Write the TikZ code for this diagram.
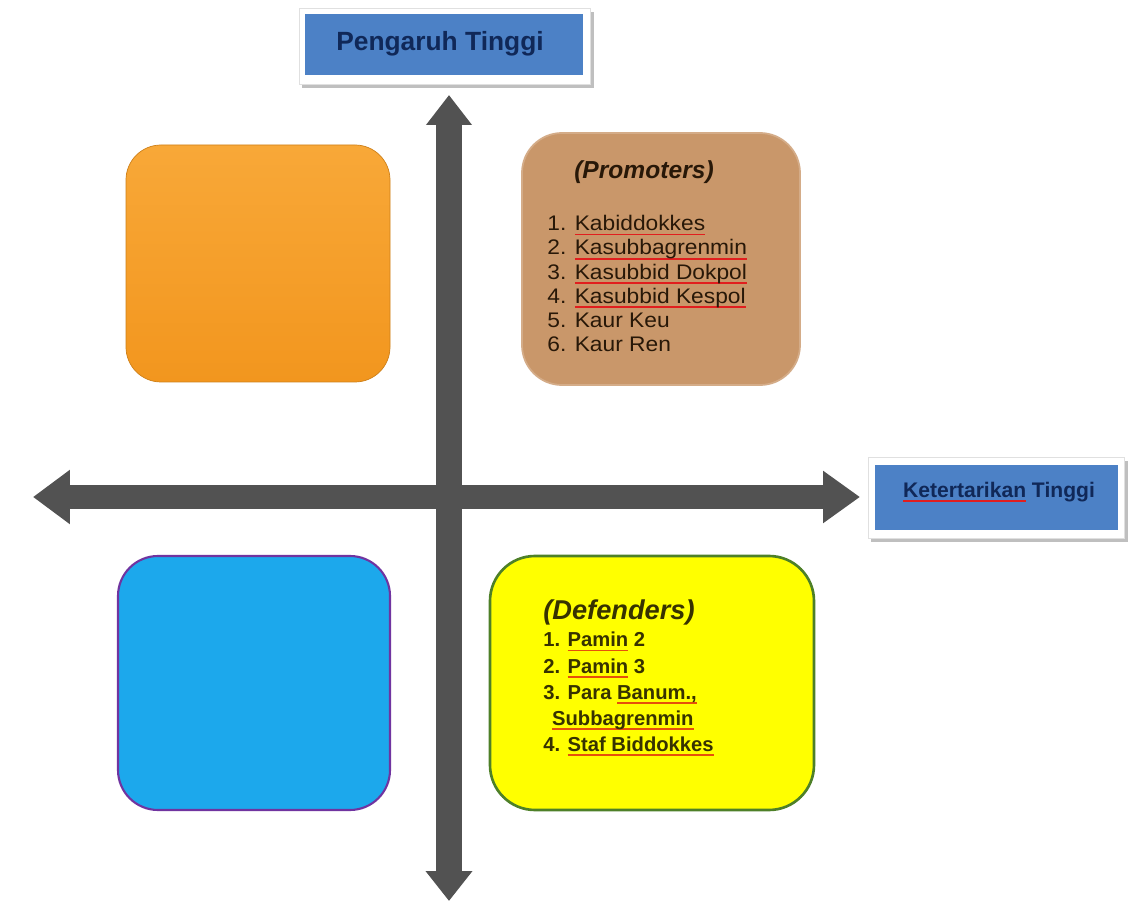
\documentclass[tikz,border=0pt]{standalone}
\usepackage{fontspec}
\setmainfont{Liberation Sans}
\usetikzlibrary{arrows.meta,fit}
\definecolor{axisgray}{RGB}{82,82,82}
\definecolor{labelblue}{RGB}{76,129,198}
\definecolor{labeltext}{RGB}{16,40,88}
\definecolor{orangetop}{RGB}{248,168,56}
\definecolor{orangebot}{RGB}{242,150,30}
\definecolor{promfill}{RGB}{201,151,106}
\definecolor{promtext}{RGB}{40,24,8}
\definecolor{cyanfill}{RGB}{28,168,236}
\definecolor{purpleline}{RGB}{112,52,160}
\definecolor{yellowfill}{RGB}{255,255,0}
\definecolor{greenline}{RGB}{78,128,40}
\definecolor{deftext}{RGB}{55,50,0}
\definecolor{splred}{RGB}{225,30,30}
\definecolor{splorange}{RGB}{230,80,10}
\newlength\spllen
\newcommand\spl[1]{\settowidth\spllen{#1}\rlap{\textcolor{splred}{\rule[-0.42ex]{\spllen}{0.9pt}}}#1}
\newcommand\splo[1]{\settowidth\spllen{#1}\rlap{\textcolor{splorange}{\rule[-0.42ex]{\spllen}{1.1pt}}}#1}
\begin{document}
\begin{tikzpicture}[x=0.02cm,y=-0.02cm,
  region/.style={inner sep=0pt, rounded corners=#1},
  shadowbox/.style={inner sep=0pt, fill=black!25, draw=none},
  framebox/.style={inner sep=0pt, fill=white, draw=black!12, line width=0.4pt},
  labelbox/.style={inner sep=0pt, fill=labelblue, draw=none},
  axisv/.style={draw=axisgray, line width=0.54cm, {Triangle[width=0.88cm,length=0.6cm]}-{Triangle[width=0.9cm,length=0.6cm]}},
  axish/.style={draw=axisgray, line width=0.48cm, {Triangle[width=1.04cm,length=0.74cm]}-{Triangle[width=1.0cm,length=0.74cm]}},
  listp/.style={font=\fontsize{12}{13.8}\selectfont, align=left, inner sep=0pt, text=promtext, xscale=1.08, transform shape},
  listd/.style={font=\fontsize{11.5}{14.9}\selectfont\bfseries, align=left, inner sep=0pt, text=deftext}
]
\useasboundingbox (0,0) rectangle (1134,902);
\fill[white] (0,0) rectangle (1134,902);

% top label
\node[shadowbox, fit={(302,12)(594,88)}] (topshadow) {};
\node[framebox, fit={(299,8)(590,84)}] (topframe) {};
\node[labelbox, fit={(305,14)(583,75)}] (toplabel) {};
\node[font=\fontsize{15}{17}\selectfont\bfseries, text=labeltext] (toptext) at (440,44) {Pengaruh Tinggi};

% right label
\node[shadowbox, fit={(871,461)(1128,542)}] (rightshadow) {};
\node[framebox, fit={(868,457)(1124,538)}] (rightframe) {};
\node[labelbox, fit={(875,465)(1118,530)}] (rightlabel) {};
\node[font=\fontsize{12}{14}\selectfont\bfseries, text=labeltext] (righttext) at (999,492) {\spl{Ketertarikan} Tinggi};

% axes
\coordinate (vtop) at (449,95);
\coordinate (vbot) at (449,901);
\coordinate (hleft) at (33,497);
\coordinate (hright) at (860,497);
\draw[axisv] (vtop) -- (vbot);
\draw[axish] (hleft) -- (hright);

% quadrants
\node[region=0.7cm, fit={(126,145)(390,382)}, top color=orangetop, bottom color=orangebot, draw=orangebot!85!black, line width=0.4pt] (tl) {};
\node[region=0.8cm, fit={(522,133)(800,385)}, fill=promfill, draw=promfill!80!white, line width=1pt] (tr) {};
\node[region=0.8cm, fit={(118,556)(390,810)}, fill=cyanfill, draw=purpleline, line width=1.2pt] (bl) {};
\node[region=0.9cm, fit={(490,556)(814,810)}, fill=yellowfill, draw=greenline, line width=1.5pt] (br) {};

% promoters text
\node[font=\fontsize{14}{16}\selectfont\bfseries\itshape, text=promtext] (promtitle) at (644,172) {(Promoters)};
\node[listp, anchor=north west] (promlist) at (547,215) {1. \spl{Kabiddokkes}\\2. \spl{Kasubbagrenmin}\\3. \spl{Kasubbid Dokpol}\\4. \spl{Kasubbid Kespol}\\5. Kaur Keu\\6. Kaur Ren};

% defenders text
\node[font=\fontsize{15.5}{18}\selectfont\bfseries\itshape, text=deftext, anchor=west, inner sep=0pt] (deftitle) at (543,612) {(Defenders)};
\node[listd, anchor=north west] (deflist) at (543,632) {1. \splo{Pamin} 2\\2. \splo{Pamin} 3\\3. Para \splo{Banum.,}\\\hspace*{5pt}\splo{Subbagrenmin}\\4. \splo{Staf Biddokkes}};
\end{tikzpicture}
\end{document}
